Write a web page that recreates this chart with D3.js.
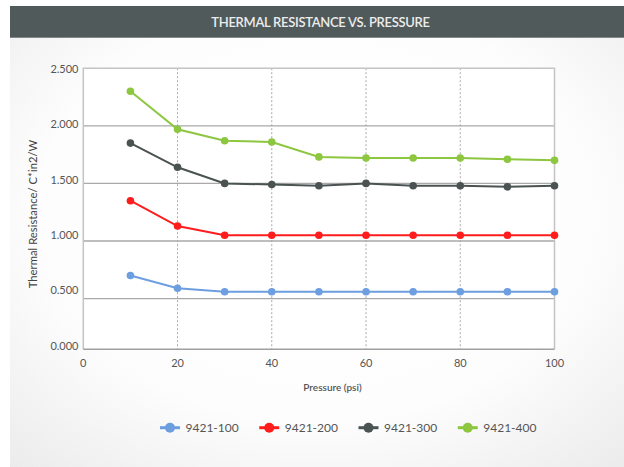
<!DOCTYPE html>
<html><head><meta charset="utf-8">
<script src="https://cdn.jsdelivr.net/npm/d3@7/dist/d3.min.js"></script>
<style>body{margin:0;background:#fff;}svg{display:block;font-family:Lato,"Open Sans",sans-serif;}</style>
</head><body>
<script>
const pressures = [10,20,30,40,50,60,70,80,90,100];
const seriesNames = ["9421-100","9421-200","9421-300","9421-400"];
const values100 = [0.70,0.59,0.56,0.56,0.56,0.56,0.56,0.56,0.56,0.56];
const values200 = [1.35,1.13,1.05,1.05,1.05,1.05,1.05,1.05,1.05,1.05];
const values300 = [1.85,1.64,1.50,1.49,1.48,1.50,1.48,1.48,1.47,1.48];
const values400 = [2.30,1.97,1.87,1.86,1.73,1.72,1.72,1.72,1.71,1.70];
const xTicks = [0,20,40,60,80,100];
const yTicks = [0,0.5,1.0,1.5,2.0,2.5];
const colors = ["#6c9ee0","#fe1c1c","#4a5252","#8dc63f"];
const title = "THERMAL RESISTANCE VS. PRESSURE";
const xTitle = "Pressure (psi)";
const yTitle = "Thermal Resistance/ C*in2/W";

(function(){
const series = seriesNames.map((n,i)=>({name:n,color:colors[i],vals:[values100,values200,values300,values400][i]}));

const W=624,H=467;
const svg=d3.select("body").append("svg").attr("width",W).attr("height",H);
const defs=svg.append("defs");
const rg=defs.append("radialGradient").attr("id","bg").attr("cx","50%").attr("cy","45%").attr("r","75%");
rg.append("stop").attr("offset","0%").attr("stop-color","#ffffff");
rg.append("stop").attr("offset","60%").attr("stop-color","#fdfdfd");
rg.append("stop").attr("offset","100%").attr("stop-color","#ebebeb");
svg.append("rect").attr("x",10).attr("y",6).attr("width",W-10).attr("height",H-6).attr("fill","url(#bg)");
svg.append("rect").attr("x",10).attr("y",6).attr("width",W-10).attr("height",31.7).attr("fill","#505a5b");
svg.append("text").attr("x",320.5).attr("y",22).attr("dy","0.35em").attr("text-anchor","middle")
  .attr("fill","#ececec").attr("font-size",13).attr("font-weight",600).attr("letter-spacing",-0.3).text(title);

const pL=83.3,pR=554.5,pT=68.2,pB=349.3;
const x=d3.scaleLinear().domain([0,100]).range([pL,pR]);
const y=d3.scaleLinear().domain([0.06,2.5]).range([pB,pT]);
const yLab=d3.scaleLinear().domain([0,2.5]).range([345.7,69.3]);

svg.append("rect").attr("x",pL).attr("y",pT).attr("width",pR-pL).attr("height",pB-pT).attr("fill","#fff");
svg.append("g").selectAll("line").data(xTicks.filter(d=>d>0&&d<100)).join("line")
  .attr("x1",d=>x(d)).attr("x2",d=>x(d)).attr("y1",pT).attr("y2",pB)
  .attr("stroke","#a8a8a8").attr("stroke-width",1).attr("stroke-dasharray","2,2");
svg.append("g").selectAll("line").data(yTicks.filter(d=>d>0&&d<2.5)).join("line")
  .attr("x1",pL).attr("x2",pR).attr("y1",d=>y(d)).attr("y2",d=>y(d))
  .attr("stroke","#a9a9a9").attr("stroke-width",1.3);
svg.append("path").attr("d",`M${pL},${pB}V${pT}H${pR}V${pB}`)
  .attr("fill","none").attr("stroke","#c4c4c4").attr("stroke-width",1.5);
svg.append("line").attr("x1",pL).attr("x2",pR).attr("y1",pB).attr("y2",pB)
  .attr("stroke","#a0a0a0").attr("stroke-width",1.5);

svg.append("g").selectAll("text").data(yTicks).join("text")
  .attr("x",78.5).attr("y",d=>yLab(d)).attr("dy","0.35em").attr("text-anchor","end")
  .attr("font-size",11).attr("fill","#555").text(d3.format(".3f"));
svg.append("g").selectAll("text").data(xTicks).join("text")
  .attr("x",d=>x(d)).attr("y",363.3).attr("dy","0.35em").attr("text-anchor","middle")
  .attr("font-size",11).attr("fill","#555").text(d=>d);
svg.append("text").attr("x",332.5).attr("y",387.5).attr("dy","0.35em").attr("text-anchor","middle")
  .attr("font-size",10).attr("font-weight",600).attr("fill","#555").text(xTitle);
svg.append("text").attr("transform","translate(33,214) rotate(-90)").attr("dy","0.35em").attr("text-anchor","middle")
  .attr("font-size",11.3).attr("fill","#444").text(yTitle);

const line=d3.line().x((d,i)=>x(pressures[i])).y(d=>y(d));
const g=svg.append("g");
series.forEach(s=>{
  g.append("path").attr("d",line(s.vals)).attr("fill","none").attr("stroke",s.color).attr("stroke-width",2);
  g.selectAll(null).data(s.vals).join("circle").attr("cx",(d,i)=>x(pressures[i])).attr("cy",d=>y(d))
    .attr("r",3.8).attr("fill",s.color);
});

const lx=d3.scaleBand().domain(seriesNames).range([160,557]);
const lg=svg.append("g").selectAll("g").data(series).join("g").attr("transform",d=>`translate(${lx(d.name)},427.7)`);
lg.append("line").attr("x1",0).attr("x2",20).attr("stroke",d=>d.color).attr("stroke-width",3);
lg.append("circle").attr("cx",10).attr("r",5).attr("fill",d=>d.color);
lg.append("text").attr("x",25.5).attr("dy","0.35em").attr("font-size",12).attr("fill","#555").text(d=>d.name);
})();
</script>
</body></html>
